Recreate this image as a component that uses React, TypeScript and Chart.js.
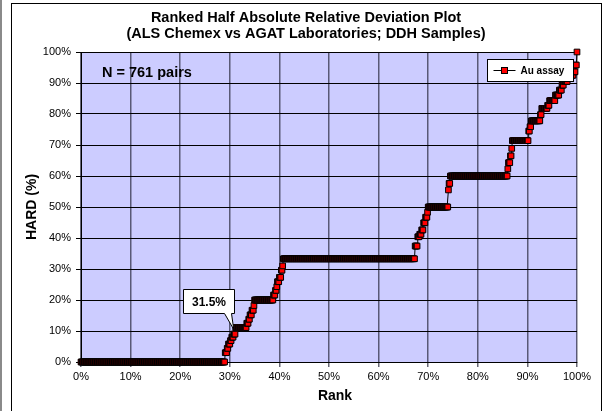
import { useEffect, useRef } from "react";
import { Chart, registerables } from "chart.js";

Chart.register(...registerables);

const W = 605;
const H = 411;

const TITLE_LINES = [
  "Ranked Half Absolute Relative Deviation Plot",
  "(ALS Chemex vs AGAT Laboratories; DDH Samples)",
];
const X_TITLE = "Rank";
const Y_TITLE = "HARD (%)";
const SERIES_LABEL = "Au assay";
const PAIR_COUNT = 761;
const N_LABEL = "N = 761 pairs";
const CALLOUT_TEXT = "31.5%";
const CALLOUT_RANK = 30.8;
const CALLOUT_HARD = 10.5;

// Distinct HARD levels (%) in ranked order, and how many pairs sit at each level
const HARD_LEVELS = [
  0, 3.0, 4.4, 5.8, 6.9, 8.0, 9.0, 11.1, 12.5, 13.8, 15.2, 16.7, 18.2, 20.0,
  21.6, 23.1, 24.3, 25.9, 27.3, 29.6, 31.0, 33.3, 37.4, 40.4, 41.2, 42.6, 44.9,
  46.7, 48.3, 50.0, 55.5, 57.6, 60.0, 62.3, 64.3, 66.5, 68.9, 71.4, 74.5, 75.9,
  77.8, 79.8, 81.8, 82.8, 84.3, 86.1, 87.7, 89.3, 90.5, 91.5, 92.5, 93.6, 95.8,
  100,
];
const HARD_COUNTS = [
  221, 3, 2, 3, 2, 3, 3, 17, 3, 2, 3, 3, 1, 29, 3, 2, 1, 3, 3, 2, 1, 202, 4, 3,
  3, 3, 3, 3, 1, 31, 1, 2, 88, 1, 3, 2, 1, 25, 2, 2, 14, 2, 9, 3, 9, 6, 4, 3, 6,
  5, 4, 3, 2, 1,
];

const AXIS_MIN = 0;
const AXIS_MAX = 100;
const AXIS_STEP = 10;

const FONT = "Arial, 'Liberation Sans', sans-serif";

function buildPoints() {
  const pts: { x: number; y: number }[] = [];
  const total = HARD_COUNTS.reduce((s, c) => s + c, 0) || PAIR_COUNT;
  let i = 0;
  HARD_LEVELS.forEach((v, k) => {
    for (let c = 0; c < HARD_COUNTS[k]; c++) {
      pts.push({ x: (i / (total - 1)) * 100, y: v });
      i++;
    }
  });
  return pts;
}

const decorPlugin = {
  id: "decor",
  beforeDraw(chart: any) {
    const ctx = chart.ctx;
    const a = chart.chartArea;
    ctx.save();
    ctx.fillStyle = "#ffffff";
    ctx.fillRect(0, 0, W, H);
    ctx.fillStyle = "#8a8a8a";
    ctx.fillRect(0, 0, 2, H);
    ctx.strokeStyle = "#000000";
    ctx.lineWidth = 1;
    ctx.strokeRect(11.5, 3.5, 590, 430);
    ctx.fillStyle = "#CCCCFF";
    ctx.fillRect(a.left, a.top, a.right - a.left, a.bottom - a.top);
    ctx.restore();
  },
  afterDraw(chart: any) {
    const ctx = chart.ctx;
    const a = chart.chartArea;
    const xs = chart.scales.x;
    const ys = chart.scales.y;
    ctx.save();
    ctx.fillStyle = "#000";
    ctx.textAlign = "center";
    ctx.textBaseline = "middle";
    ctx.font = `bold 14.5px ${FONT}`;
    ctx.fillText(TITLE_LINES[0], 306, 18);
    ctx.fillText(TITLE_LINES[1], 306, 34);

    // axis titles
    ctx.font = `bold 14px ${FONT}`;
    ctx.fillText(X_TITLE, (a.left + a.right) / 2 + 6, 396);
    ctx.save();
    ctx.translate(32, (a.top + a.bottom) / 2);
    ctx.rotate(-Math.PI / 2);
    ctx.fillText(Y_TITLE, 0, 0);
    ctx.restore();

    // N label
    ctx.textAlign = "left";
    ctx.font = `bold 14.5px ${FONT}`;
    ctx.fillText(N_LABEL, a.left + 21, a.top + 21);

    // callout
    const tx = xs.getPixelForValue(CALLOUT_RANK);
    const ty = ys.getPixelForValue(CALLOUT_HARD);
    const bw = 51;
    const bh = 24;
    const bx = Math.round(tx - 51) + 0.5;
    const by = Math.round(ty - 40) + 0.5;
    ctx.beginPath();
    ctx.moveTo(bx, by);
    ctx.lineTo(bx + bw, by);
    ctx.lineTo(bx + bw, by + bh);
    ctx.lineTo(bx + bw - 3, by + bh);
    ctx.lineTo(tx, ty);
    ctx.lineTo(bx + bw - 10, by + bh);
    ctx.lineTo(bx, by + bh);
    ctx.closePath();
    ctx.fillStyle = "#ffffff";
    ctx.fill();
    ctx.strokeStyle = "#000";
    ctx.lineWidth = 1;
    ctx.stroke();
    ctx.fillStyle = "#000";
    ctx.textAlign = "center";
    ctx.font = `bold 12px ${FONT}`;
    ctx.fillText(CALLOUT_TEXT, bx + bw / 2, by + bh / 2 + 1);

    // legend
    const lx = Math.round(a.right - 90) + 0.5;
    const ly = Math.round(a.top + 7) + 0.5;
    const lw = 86;
    const lh = 22;
    ctx.fillStyle = "#ffffff";
    ctx.fillRect(lx, ly, lw, lh);
    ctx.strokeStyle = "#000";
    ctx.strokeRect(lx, ly, lw, lh);
    const cy = ly + lh / 2;
    ctx.beginPath();
    ctx.moveTo(lx + 6, cy);
    ctx.lineTo(lx + 28, cy);
    ctx.stroke();
    ctx.fillStyle = "#FF0000";
    ctx.fillRect(lx + 14, cy - 3, 6, 6);
    ctx.strokeRect(lx + 14, cy - 3, 6, 6);
    ctx.fillStyle = "#000";
    ctx.textAlign = "left";
    ctx.font = `bold 10px ${FONT}`;
    ctx.fillText(SERIES_LABEL, lx + 33, cy + 1);
    ctx.restore();
  },
};

export default function App() {
  const ref = useRef<HTMLCanvasElement | null>(null);
  useEffect(() => {
    document.body.style.margin = "0";
    if (!ref.current) return;
    const chart = new Chart(ref.current, {
      type: "line",
      data: {
        datasets: [
          {
            label: SERIES_LABEL,
            data: buildPoints(),
            borderColor: "#000000",
            borderWidth: 1,
            pointStyle: "rect",
            pointRadius: 4,
            pointBackgroundColor: "#FF0000",
            pointBorderColor: "#000000",
            pointBorderWidth: 1,
            tension: 0,
            clip: false as any,
          },
        ],
      },
      options: {
        responsive: false,
        animation: false,
        events: [],
        layout: { padding: { left: 0, top: 52, right: 28, bottom: 0 } },
        plugins: {
          legend: { display: false },
          title: { display: false },
          tooltip: { enabled: false },
        },
        scales: {
          x: {
            type: "linear",
            min: AXIS_MIN,
            max: AXIS_MAX,
            afterFit: (s: any) => {
              s.height = H - 362;
            },
            grid: {
              color: "rgba(40,40,60,0.7)",
              lineWidth: 1.5,
              tickLength: 5,
              drawTicks: true,
            },
            border: { color: "#000", width: 1 },
            ticks: {
              stepSize: AXIS_STEP,
              color: "#000",
              font: { family: FONT, size: 11 },
              padding: 3,
              maxRotation: 0,
              callback: (v: any) => `${v}%`,
            },
          },
          y: {
            type: "linear",
            min: AXIS_MIN,
            max: AXIS_MAX,
            afterFit: (s: any) => {
              s.width = 81;
            },
            grid: {
              color: "#000",
              lineWidth: 1,
              tickLength: 5,
              drawTicks: true,
            },
            border: { color: "#000", width: 1 },
            ticks: {
              stepSize: AXIS_STEP,
              color: "#000",
              font: { family: FONT, size: 11 },
              padding: 5,
              callback: (v: any) => `${v}%`,
            },
          },
        },
      },
      plugins: [decorPlugin],
    });
    return () => chart.destroy();
  }, []);
  return (
    <div style={{ position: "absolute", left: 0, top: 0, width: W, height: H }}>
      <canvas ref={ref} width={W} height={H} style={{ width: W, height: H, display: "block" }} />
    </div>
  );
}
